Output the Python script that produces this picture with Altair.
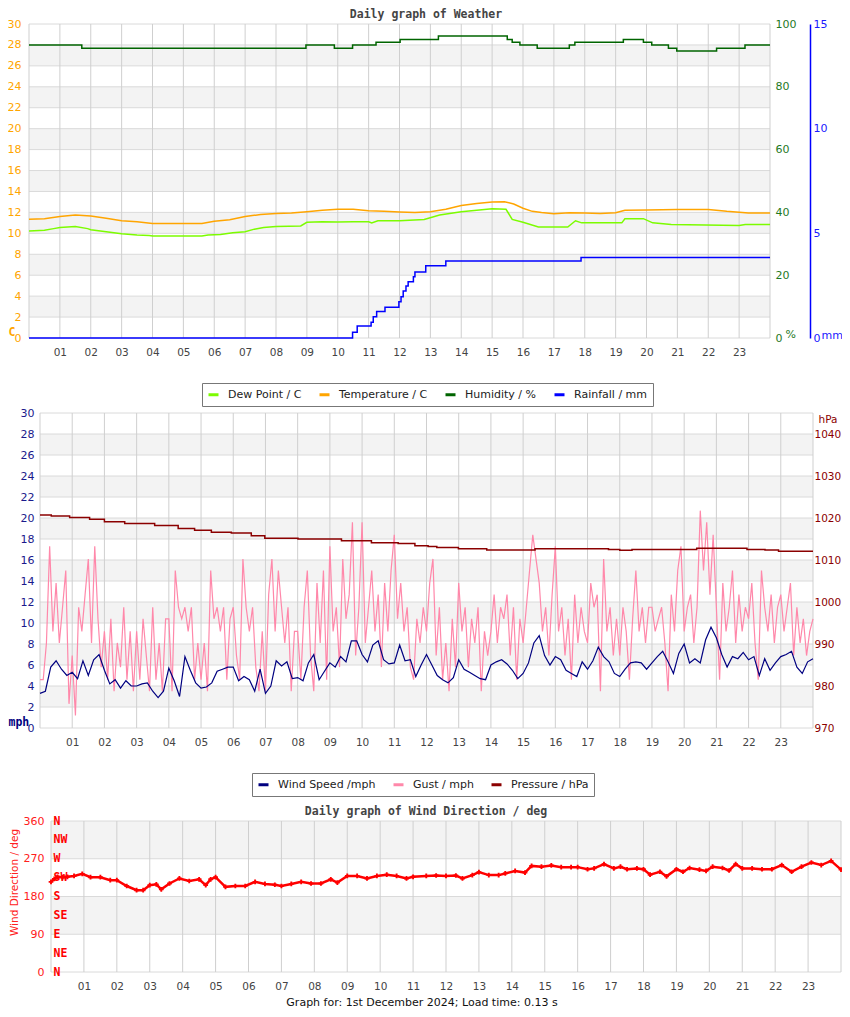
import altair as alt
import pandas as pd

# ------------------------------------------------------------------ values
HOURS = list(range(0, 25))            # vertical grid lines (hour of day)
HOUR_LABELS = list(range(1, 24))      # tick labels 01 .. 23

TEMP_TICKS = list(range(0, 31, 2))
HUM_TICKS = [0, 20, 40, 60, 80, 100]
RAIN_TICKS = [0, 5, 10, 15]
WIND_TICKS = list(range(0, 31, 2))
PRES_TICKS = list(range(970, 1041, 10))
DIR_TICKS = [0, 90, 180, 270, 360]
COMPASS_DEG = [0, 45, 90, 135, 180, 225, 270, 315, 360]
COMPASS = ["N", "NE", "E", "SE", "S", "SW", "W", "NW", "N"]

BAND_LO = [2, 6, 10, 14, 18, 22, 26]
BAND_HI = [4, 8, 12, 16, 20, 24, 28]
DIR_BAND_LO = [90, 270]
DIR_BAND_HI = [180, 360]

TEMP_H = [0, 0.5, 1.0, 1.5, 2.0, 2.5, 3.0, 3.5, 4.0, 5.0, 5.6, 6.0, 6.5, 7.0, 7.5,
          8.0, 8.5, 9.0, 9.5, 10.0, 10.5, 11.0, 11.5, 12.0, 12.5, 13.0, 13.5,
          14.0, 14.5, 15.0, 15.4, 15.7, 16.0, 16.3, 16.6, 17.0, 17.5, 18.0,
          18.5, 19.0, 19.3, 20.0, 21.0, 22.0, 22.6, 23.0, 23.3, 24.0]
TEMP_C = [11.35, 11.4, 11.6, 11.75, 11.65, 11.45, 11.2, 11.1, 10.95, 10.95,
          10.95, 11.15, 11.3, 11.6, 11.8, 11.9, 11.95, 12.07, 12.2, 12.3, 12.3,
          12.15, 12.12, 12.05, 12.0, 12.07, 12.3, 12.65, 12.86, 13.0, 13.02,
          12.8, 12.4, 12.1, 11.98, 11.88, 11.97, 11.94, 11.9, 11.97, 12.2,
          12.22, 12.27, 12.27, 12.1, 12.02, 11.94, 11.94]

DEW_H = [0, 0.5, 0.8, 1.0, 1.5, 1.9, 2.0, 2.5, 3.0, 3.5, 3.9, 4.0, 5.0, 5.6,
         5.8, 6.2, 6.6, 7.0, 7.3, 7.6, 8.0, 8.8, 9.0, 9.5, 10.0, 10.5, 11.0,
         11.1, 11.3, 12.0, 12.8, 13.3, 14.0, 15.0, 15.45, 15.65, 16.0, 16.5,
         17.45, 17.7, 17.9, 19.2, 19.3, 19.9, 20.2, 20.8, 23.0, 23.2, 24.0]
DEW_C = [10.22, 10.3, 10.45, 10.55, 10.65, 10.45, 10.35, 10.15, 9.95, 9.85,
         9.8, 9.75, 9.75, 9.75, 9.85, 9.9, 10.05, 10.15, 10.4, 10.55, 10.65,
         10.7, 11.05, 11.1, 11.08, 11.1, 11.1, 11.0, 11.2, 11.2, 11.33, 11.75,
         12.07, 12.35, 12.3, 11.33, 11.05, 10.6, 10.6, 11.2, 11.0, 11.0, 11.4,
         11.4, 11.0, 10.85, 10.75, 10.85, 10.85]

HUM_H = [0, 1.71, 8.97, 9.89, 10.48, 11.24, 12.02, 13.26, 15.49, 15.65, 15.9,
         16.46, 17.5, 17.68, 19.25, 19.9, 20.17, 20.71, 20.98, 22.27, 23.19, 24]
HUM_PCT = [93.3, 92.3, 93.3, 92.3, 93.3, 94.2, 95.1, 96.2, 95.1, 94.2, 93.3,
           92.3, 93.3, 94.2, 95.1, 94.2, 93.3, 92.3, 91.4, 92.3, 93.3, 93.3]

RAIN_H = [0, 10.48, 10.63, 11.08, 11.15, 11.26, 11.53, 11.98, 12.05, 12.12,
          12.21, 12.28, 12.45, 12.5, 12.85, 13.5, 17.88, 24]
RAIN_MM = [0, 0.27, 0.57, 0.75, 1.02, 1.26, 1.47, 1.73, 1.97, 2.25, 2.48,
           2.69, 2.93, 3.15, 3.45, 3.68, 3.85, 3.85]

# wind speed, one value every 10 minutes
SPEED_MPH = [
    3.3, 3.5, 5.8, 6.4, 5.6, 5.0,   5.3, 4.7, 6.4, 5.0, 6.5, 7.0,
    5.5, 4.2, 4.6, 3.8, 4.5, 4.0,   4.0, 4.2, 4.3, 3.5, 2.9, 3.5,
    5.7, 4.5, 3.0, 6.8, 5.5, 4.3,   3.8, 3.9, 4.3, 5.4, 5.6, 5.8,
    5.8, 4.5, 4.9, 4.6, 3.5, 5.6,   3.3, 4.0, 6.4, 5.9, 6.3, 4.7,
    4.8, 4.5, 6.2, 7.0, 4.6, 5.4,   6.2, 5.8, 6.8, 6.3, 8.3, 8.3,
    7.0, 6.3, 7.9, 8.3, 6.5, 6.1,   6.2, 7.9, 6.4, 6.5, 4.9, 6.0,
    7.0, 6.0, 5.0, 4.6, 4.3, 4.8,   6.5, 5.6, 5.3, 5.0, 4.7, 4.6,
    6.0, 6.3, 6.5, 6.1, 5.5, 4.7,   5.2, 6.2, 8.1, 8.8, 6.9, 6.0,
    6.8, 6.5, 5.5, 5.2, 4.9, 6.3,   5.6, 6.4, 7.7, 6.8, 6.3, 5.2,
    4.9, 5.6, 6.2, 6.3, 6.2, 5.6,   6.2, 6.8, 7.3, 6.3, 5.2, 7.1,
    8.0, 6.2, 6.6, 6.2, 8.4, 9.6,   8.6, 7.0, 5.8, 6.8, 6.6, 7.2,
    6.5, 6.8, 5.0, 6.6, 5.5, 6.2,   6.8, 7.0, 7.3, 5.8, 5.2, 6.3,
    6.6]

# gust, one value every 6 minutes
GUST_MPH = [
    4.6, 4.6, 8.1, 17.3, 9.2, 13.8, 8.1, 11.5, 15.0, 2.3,
    6.9, 1.2, 11.5, 9.2, 12.7, 16.1, 8.1, 17.3, 10.4, 5.8,
    9.2, 4.6, 10.4, 3.5, 8.1, 5.8, 11.5, 4.6, 9.2, 3.5,
    9.2, 4.6, 10.4, 6.9, 3.5, 11.5, 4.6, 8.1, 3.5, 10.4,
    10.4, 3.5, 15.0, 11.5, 10.4, 11.5, 9.2, 11.5, 4.6, 8.1,
    4.6, 8.1, 3.5, 15.0, 10.4, 11.5, 9.2, 11.5, 4.6, 10.4,
    11.5, 6.9, 4.6, 16.1, 11.5, 9.2, 11.5, 5.8, 3.5, 9.2,
    3.5, 12.7, 16.1, 9.2, 15.0, 11.5, 8.1, 11.5, 3.5, 9.2,
    9.2, 4.6, 11.5, 15.0, 6.9, 3.5, 13.8, 8.1, 15.0, 4.6,
    17.3, 9.2, 11.5, 5.8, 16.1, 10.4, 12.7, 19.6, 6.9, 11.5,
    19.6, 8.1, 11.5, 15.0, 9.2, 12.7, 5.8, 13.8, 9.2, 15.0,
    18.4, 10.4, 13.8, 9.2, 11.5, 5.8, 4.6, 10.4, 8.1, 11.5,
    9.2, 13.8, 16.1, 6.9, 11.5, 4.6, 8.1, 3.5, 10.4, 5.8,
    13.8, 9.2, 11.5, 5.8, 10.4, 8.1, 11.5, 3.5, 9.2, 6.9,
    9.2, 12.7, 8.1, 11.5, 10.4, 12.7, 6.9, 11.5, 4.6, 10.4,
    8.1, 11.5, 15.0, 18.4, 16.1, 13.8, 9.2, 11.5, 6.9, 12.7,
    17.3, 9.2, 11.5, 6.9, 10.4, 4.6, 12.7, 8.1, 11.5, 9.2,
    8.1, 13.8, 11.5, 12.7, 3.5, 16.1, 9.2, 11.5, 6.9, 10.4,
    6.9, 11.5, 9.2, 4.6, 10.4, 15.0, 9.2, 11.5, 8.1, 11.5,
    11.5, 9.2, 10.4, 11.5, 8.1, 3.5, 12.7, 9.2, 15.0, 17.3,
    9.2, 11.5, 12.7, 8.1, 11.5, 20.7, 15.0, 19.6, 12.7, 18.4,
    11.5, 4.6, 13.8, 9.2, 11.5, 15.0, 8.1, 12.7, 9.2, 11.5,
    10.4, 13.8, 8.1, 4.6, 15.0, 11.5, 9.2, 12.7, 8.1, 11.5,
    12.7, 9.2, 11.5, 13.8, 6.9, 11.5, 8.1, 10.4, 6.9, 9.2,
    10.4]

PRES_H = [0, 0.35, 0.92, 1.54, 2.0, 2.63, 3.56, 4.29, 4.8, 5.32, 5.94, 6.56,
          6.98, 8.01, 9.36, 10.29, 11.12, 11.64, 12.05, 12.32, 12.99, 13.87,
          15.37, 17.65, 18.0, 18.38, 20.39, 21.95, 22.51, 22.93, 24]
PRES_HPA = [1020.7, 1020.5, 1020.1, 1019.7, 1019.1, 1018.7, 1018.2, 1017.5,
            1017.1, 1016.6, 1016.4, 1015.8, 1015.2, 1015.0, 1014.6, 1014.1,
            1013.9, 1013.4, 1013.2, 1013.0, 1012.7, 1012.4, 1012.7, 1012.5,
            1012.3, 1012.5, 1012.8, 1012.5, 1012.4, 1012.1, 1012.1]

DIR_H = [0.0, 0.1, 0.2, 0.35, 0.5, 0.7, 0.95, 1.2, 1.5, 1.8, 2.0, 2.3, 2.6,
         2.8, 3.0, 3.2, 3.35, 3.6, 3.9, 4.2, 4.5, 4.7, 4.85, 5.0, 5.3, 5.6,
         5.9, 6.2, 6.5, 6.8, 7.0, 7.3, 7.6, 7.9, 8.2, 8.5, 8.7, 9.0, 9.3,
         9.6, 9.9, 10.2, 10.5, 10.8, 11.0, 11.4, 11.7, 12.0, 12.3, 12.5,
         12.8, 13.0, 13.3, 13.6, 13.8, 14.1, 14.4, 14.6, 14.9, 15.2, 15.5,
         15.8, 16.0, 16.3, 16.5, 16.8, 17.1, 17.3, 17.5, 17.8, 18.0, 18.2,
         18.5, 18.7, 19.0, 19.2, 19.4, 19.7, 19.9, 20.1, 20.4, 20.6, 20.8,
         21.0, 21.3, 21.6, 21.9, 22.2, 22.5, 22.8, 23.1, 23.4, 23.7, 24.0]
DIR_DEG = [215, 222, 227, 226, 227, 229, 234, 226, 226, 219, 219, 205, 195,
           195, 207, 209, 197, 211, 223, 217, 221, 207, 221, 226, 203, 205,
           205, 215, 210, 208, 205, 210, 215, 211, 211, 221, 213, 229, 229,
           223, 229, 232, 229, 223, 227, 229, 230, 229, 230, 223, 231, 238,
           231, 231, 235, 241, 237, 253, 251, 254, 250, 250, 250, 245, 247,
           257, 247, 251, 245, 247, 245, 232, 239, 228, 245, 239, 248, 244,
           241, 251, 248, 242, 257, 247, 247, 245, 245, 255, 239, 251, 261,
           255, 265, 244]

LEG1_NAMES = ["Dew Point / C", "Temperature / C", "Humidity / %", "Rainfall / mm"]
LEG1_COLORS = ["#7cfc00", "#ffa500", "#006400", "#0000ff"]
LEG2_NAMES = ["Wind Speed /mph", "Gust / mph", "Pressure / hPa"]
LEG2_COLORS = ["#000080", "#ff88aa", "#8b0000"]

TITLE1 = "Daily graph of Weather"
TITLE3 = "Daily graph of Wind Direction / deg"
FOOTER = "Graph for: 1st December 2024; Load time: 0.13 s"

# ------------------------------------------------------------------ layout
W, H = 834, 1001
DAY = [0, 24]
P1X, P1Y = [21, 762], [330, 16]
P2X, P2Y = [32, 805], [720, 405]
P3X, P3Y = [43, 833], [964, 813]
TEMP_DOM, HUM_DOM, RAIN_DOM = [0, 30], [0, 100], [0, 15]
WIND_DOM, PRES_DOM, DIR_DOM = [0, 30], [970, 1045], [0, 360]

SANS = "DejaVu Sans"
MONO = "DejaVu Sans Mono"
BAND = "#f3f3f3"
HGRID = "#dadada"
VGRID = "#cfcfcf"


def sc(domain, rng):
    return alt.Scale(domain=domain, range=rng, nice=False, zero=False)


def yaxis(orient, offset, values, color, pad, **kw):
    base = dict(orient=orient, offset=offset, values=values, labelColor=color,
                labelFont=SANS, labelFontSize=11, labelPadding=pad, format="d",
                ticks=False, tickSize=0, domain=False, grid=False, zindex=1,
                labelOverlap=False, labelFlush=False)
    base.update(kw)
    return alt.Axis(**base)


def hour_axis(offset, **kw):
    base = dict(orient="bottom", offset=offset, values=HOUR_LABELS, format="02d",
                labelFont=SANS, labelFontSize=10.5, labelColor="#444",
                labelPadding=9, ticks=False, tickSize=0, domain=False, zindex=1,
                grid=False, labelOverlap=False, labelFlush=False)
    base.update(kw)
    return alt.Axis(**base)


def title_axis(offset, text):
    return alt.Axis(orient="top", offset=offset, labels=False, ticks=False,
                    tickSize=0, domain=False, grid=False, title=text, zindex=1,
                    titleX=417.5, titleY=-10, titleAlign="center",
                    titleBaseline="middle", titleFont=MONO, titleFontSize=11.5,
                    titleFontWeight="bold", titleColor="#444")


def legend(x, y):
    return alt.Legend(orient="none", legendX=x, legendY=y, direction="horizontal",
                      title=None, symbolType="stroke", symbolStrokeWidth=3,
                      symbolSize=100, labelFont=SANS, labelFontSize=11,
                      labelColor="#222", labelOffset=8, columnPadding=11,
                      padding=5, strokeColor="#777", fillColor="white")


def panel_frame(px, py, ydom, yax, xax_bottom, xax_top, band_lo, band_hi, ticks, band_yaxis=None):
    bands = pd.DataFrame({"lo": band_lo, "hi": band_hi, "h0": DAY[0], "h1": DAY[1]})
    hg = pd.DataFrame({"v": ticks, "h0": DAY[0], "h1": DAY[1]})
    vg = pd.DataFrame({"h": HOURS, "lo": ydom[0], "hi": ydom[1]})
    band_layer = alt.Chart(bands).mark_rect(color=BAND).encode(
        x=alt.X("h0:Q", scale=sc(DAY, px), axis=xax_top),
        x2=alt.X2("h1"),
        y=alt.Y("lo:Q", scale=sc(ydom, py), axis=band_yaxis),
        y2=alt.Y2("hi"),
    )
    hg_layer = alt.Chart(hg).mark_rule(color=HGRID, strokeWidth=1).encode(
        x=alt.X("h0:Q", scale=sc(DAY, px), axis=None),
        x2=alt.X2("h1"),
        y=alt.Y("v:Q", scale=sc(ydom, py), axis=yax),
    )
    vg_layer = alt.Chart(vg).mark_rule(color=VGRID, strokeWidth=1).encode(
        x=alt.X("h:Q", scale=sc(DAY, px), axis=xax_bottom),
        y=alt.Y("lo:Q", scale=sc(ydom, py), axis=None),
        y2=alt.Y2("hi"),
    )
    return [band_layer, hg_layer, vg_layer]


# ------------------------------------------------------------------ panel 1
c1 = alt.Scale(domain=LEG1_NAMES, range=LEG1_COLORS)
leg1 = legend(194, 375)

p1 = panel_frame(
    P1X, P1Y, TEMP_DOM,
    yaxis("left", -21, TEMP_TICKS, "#ffa500", 8, title="C", titleAngle=0,
          titleX=-21, titleY=324, titleAlign="left", titleBaseline="middle",
          titleColor="#ffa500", titleFont=MONO, titleFontWeight="bold",
          titleFontSize=11.5),
    hour_axis(330 - H, title=None),
    title_axis(-16, TITLE1),
    BAND_LO, BAND_HI, TEMP_TICKS,
)

td = pd.concat([
    pd.DataFrame({"h": DEW_H, "v": DEW_C, "s1": LEG1_NAMES[0]}),
    pd.DataFrame({"h": TEMP_H, "v": TEMP_C, "s1": LEG1_NAMES[1]}),
])
hum = pd.DataFrame({"h": HUM_H, "v": HUM_PCT, "s1": LEG1_NAMES[2]})
rain = pd.DataFrame({"h": RAIN_H, "v": RAIN_MM, "s1": LEG1_NAMES[3]})

p1 += [
    alt.Chart(td).mark_line(strokeWidth=1.5).encode(
        x=alt.X("h:Q", scale=sc(DAY, P1X), axis=None),
        y=alt.Y("v:Q", scale=sc(TEMP_DOM, P1Y), axis=None),
        color=alt.Color("s1:N", scale=c1, legend=leg1),
    ),
    alt.Chart(hum).mark_line(strokeWidth=1.5, interpolate="step-after").encode(
        x=alt.X("h:Q", scale=sc(DAY, P1X), axis=None),
        y=alt.Y("v:Q", scale=sc(HUM_DOM, P1Y),
                axis=yaxis("right", 762 - W, HUM_TICKS, "#1f7a1f", 5, title="%",
                           titleAngle=0, titleX=15, titleY=326, titleAlign="left",
                           titleBaseline="middle", titleColor="#1f7a1f",
                           titleFont=SANS, titleFontSize=11,
                           titleFontWeight="normal")),
        color=alt.Color("s1:N", scale=c1, legend=leg1),
    ),
    alt.Chart(rain).mark_line(strokeWidth=1.5, interpolate="step-after").encode(
        x=alt.X("h:Q", scale=sc(DAY, P1X), axis=None),
        y=alt.Y("v:Q", scale=sc(RAIN_DOM, P1Y),
                axis=yaxis("right", 802 - W, RAIN_TICKS, "#1a1aff", 3,
                           domain=True, domainColor="#0000ff", domainWidth=1.5,
                           title="mm", titleAngle=0, titleX=11, titleY=327,
                           titleAlign="left", titleBaseline="middle",
                           titleColor="#1a1aff", titleFont=SANS,
                           titleFontSize=11, titleFontWeight="normal")),
        color=alt.Color("s1:N", scale=c1, legend=leg1),
    ),
]

# ------------------------------------------------------------------ panel 2
c2 = alt.Scale(domain=LEG2_NAMES, range=LEG2_COLORS)
leg2 = legend(244, 765)

p2 = panel_frame(
    P2X, P2Y, WIND_DOM,
    yaxis("left", -32, WIND_TICKS, "#1a1a8c", 6, title="mph", titleAngle=0,
          titleX=-32, titleY=714, titleAlign="left", titleBaseline="middle",
          titleColor="#000080", titleFont=MONO, titleFontWeight="bold",
          titleFontSize=11.5),
    hour_axis(720 - H, title=None),
    None,
    BAND_LO, BAND_HI, WIND_TICKS,
)

speed = pd.DataFrame({"h": [i / 6 for i in range(len(SPEED_MPH))], "v": SPEED_MPH,
                      "s2": LEG2_NAMES[0]})
gust = pd.DataFrame({"h": [i / 10 for i in range(len(GUST_MPH))], "v": GUST_MPH,
                     "s2": LEG2_NAMES[1]})
pres = pd.DataFrame({"h": PRES_H, "v": PRES_HPA, "s2": LEG2_NAMES[2]})

p2 += [
    alt.Chart(gust).mark_line(strokeWidth=1.2).encode(
        x=alt.X("h:Q", scale=sc(DAY, P2X), axis=None),
        y=alt.Y("v:Q", scale=sc(WIND_DOM, P2Y), axis=None),
        stroke=alt.Stroke("s2:N", scale=c2, legend=leg2),
    ),
    alt.Chart(speed).mark_line(strokeWidth=1.2).encode(
        x=alt.X("h:Q", scale=sc(DAY, P2X), axis=None),
        y=alt.Y("v:Q", scale=sc(WIND_DOM, P2Y), axis=None),
        stroke=alt.Stroke("s2:N", scale=c2, legend=leg2),
    ),
    alt.Chart(pres).mark_line(strokeWidth=1.5, interpolate="step-after").encode(
        x=alt.X("h:Q", scale=sc(DAY, P2X), axis=None),
        y=alt.Y("v:Q", scale=sc(PRES_DOM, P2Y),
                axis=yaxis("right", 805 - W, PRES_TICKS, "#8b0000", 1,
                           labelFontSize=10.5, title="hPa",
                           titleAngle=0, titleX=5, titleY=411, titleAlign="left",
                           titleBaseline="middle", titleColor="#8b0000",
                           titleFont=SANS, titleFontSize=10.5,
                           titleFontWeight="normal")),
        stroke=alt.Stroke("s2:N", scale=c2, legend=leg2),
    ),
]

# ------------------------------------------------------------------ panel 3
compass_expr = "[" + ",".join(f"'{c}'" for c in COMPASS) + "][datum.value / 45]"
compass_axis = alt.Axis(orient="right", offset=P3X[0] + 1 - W, values=COMPASS_DEG,
                        labelExpr=compass_expr, labelAlign="left",
                        labelBaseline="middle", labelFont=MONO,
                        labelFontWeight="bold", labelFontSize=11.5,
                        labelColor="#ff0000", labelPadding=1, ticks=False,
                        tickSize=0, domain=False, grid=False, title=None,
                        zindex=2, labelOverlap=False, labelFlush=False)

p3 = panel_frame(
    P3X, P3Y, DIR_DOM,
    yaxis("left", -P3X[0], DIR_TICKS, "#ff2020", 7, title="Wind Direction / deg",
          titleAngle=270, titleX=-37, titleY=874, titleAlign="center",
          titleBaseline="middle", titleColor="#ff2020", titleFont=SANS,
          titleFontSize=10.5, titleFontWeight="normal"),
    hour_axis(964 - H, title=FOOTER, titleX=413.5, titleY=30, titleAlign="center",
              titleBaseline="middle", titleFont=SANS, titleFontSize=11,
              titleFontWeight="normal", titleColor="#111"),
    title_axis(-813, TITLE3),
    DIR_BAND_LO, DIR_BAND_HI, DIR_TICKS,
    band_yaxis=compass_axis,
)

wd = pd.DataFrame({"h": DIR_H, "d": DIR_DEG})
p3 += [
    alt.Chart(wd).mark_line(color="#ff0000", strokeWidth=2.5).encode(
        x=alt.X("h:Q", scale=sc(DAY, P3X), axis=None),
        y=alt.Y("d:Q", scale=sc(DIR_DOM, P3Y), axis=None),
    ),
    alt.Chart(wd).mark_point(color="#ff0000", shape="cross", filled=True,
                             size=22, opacity=1).encode(
        x=alt.X("h:Q", scale=sc(DAY, P3X), axis=None),
        y=alt.Y("d:Q", scale=sc(DIR_DOM, P3Y), axis=None),
    ),
]

chart = (
    alt.layer(*(p1 + p2 + p3))
    .resolve_scale(x="independent", y="independent")
    .properties(width=W, height=H, autosize=alt.AutoSizeParams(type="none"),
                padding=0, background="white")
    .configure_view(stroke=None)
)

chart.save("out.html", embed_options={"renderer": "svg", "actions": False})
